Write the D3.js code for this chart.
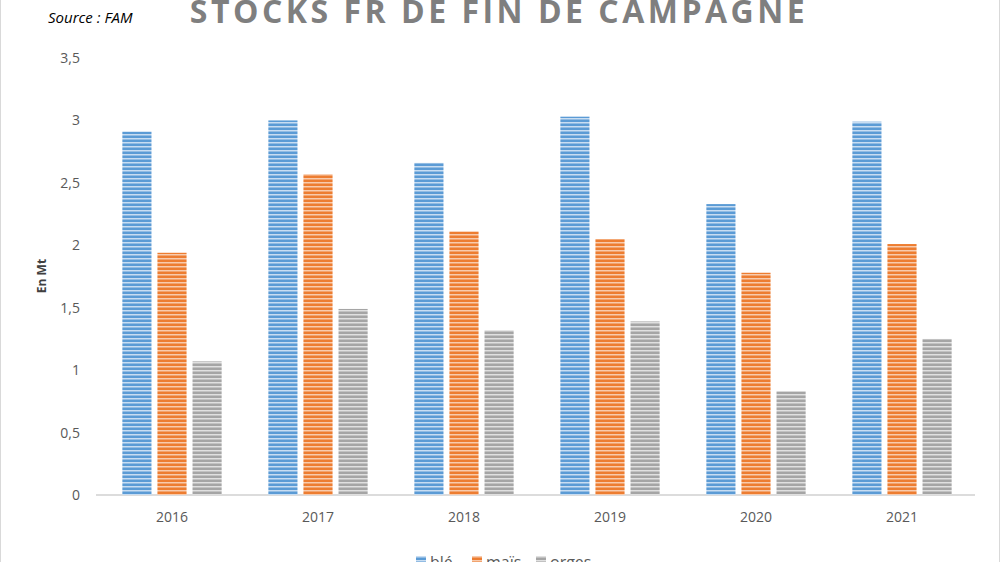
<!DOCTYPE html>
<head>
<meta charset="utf-8">
<script src="https://d3js.org/d3.v7.min.js"></script>
<style>body{margin:0;background:#fff;}</style>
</head>
<body>
<script>
var years = ["2016","2017","2018","2019","2020","2021"];
var series = ["blé","maïs","orges"];
var ble = [2.91, 3.0, 2.66, 3.03, 2.33, 2.99];
var mais = [1.94, 2.57, 2.11, 2.05, 1.78, 2.01];
var orges = [1.07, 1.49, 1.32, 1.39, 0.83, 1.25];
var yTicks = [0, 0.5, 1, 1.5, 2, 2.5, 3, 3.5];
var colors = {"blé":["#5b9bd5","#c8ddf2"], "maïs":["#ed7d31","#f8cbad"], "orges":["#a5a5a5","#e0e0e0"]};
var values = {"blé":ble, "maïs":mais, "orges":orges};

var svg = d3.select("body").append("svg").attr("width",1000).attr("height",562);
svg.append("rect").attr("x",0.5).attr("y",-2).attr("width",999).attr("height",570)
  .attr("fill","#fff").attr("stroke","#d9d9d9");

var defs = svg.append("defs");
series.forEach(function(s,i){
  var p = defs.append("pattern").attr("id","p"+i).attr("patternUnits","userSpaceOnUse")
    .attr("width",4).attr("height",4);
  p.append("rect").attr("width",4).attr("height",4).attr("fill",colors[s][0]);
  p.append("rect").attr("y",2).attr("width",4).attr("height",1.5).attr("fill",colors[s][1]);
});

var x = d3.scaleBand().domain(years).range([99,975]).paddingInner(0.32).paddingOuter(0.16);
var xs = d3.scaleBand().domain(series).range([0,x.bandwidth()]).paddingInner(0.17);
var y = d3.scaleLinear().domain([0,3.5]).range([495,58]);

var ya = svg.append("g").attr("transform","translate(85,0)")
  .call(d3.axisLeft(y).tickValues(yTicks).tickSize(0).tickPadding(5)
    .tickFormat(function(d){ return String(d).replace(".",","); }));
ya.select(".domain").remove();
ya.selectAll("text").attr("font-family","Open Sans, sans-serif").attr("font-size",14).attr("fill","#595959");

var xa = svg.append("g").attr("transform","translate(0,495)")
  .call(d3.axisBottom(x).tickSize(0).tickPadding(17));
xa.select(".domain").attr("stroke","#d0d0d0").attr("stroke-width",1.5).attr("d","M96,0H975");
xa.selectAll("text").attr("font-family","Open Sans, sans-serif").attr("font-size",14).attr("fill","#595959");

series.forEach(function(s,i){
  svg.append("g").selectAll("rect").data(values[s]).join("rect")
    .attr("x",function(d,j){ return x(years[j]) + xs(s); })
    .attr("y",function(d){ return y(d); })
    .attr("width",xs.bandwidth())
    .attr("height",function(d){ return y(0)-y(d); })
    .attr("fill","url(#p"+i+")");
});

svg.append("text").attr("x",499).attr("y",23).attr("text-anchor","middle")
  .attr("font-family","Open Sans, sans-serif").attr("font-weight","bold").attr("font-size",32)
  .attr("letter-spacing",3.5).attr("fill","#7f7f7f").text("STOCKS FR DE FIN DE CAMPAGNE");
svg.append("text").attr("x",48).attr("y",23).attr("font-family","Open Sans, sans-serif")
  .attr("font-style","italic").attr("font-size",15).attr("fill","#000").text("Source : FAM");
svg.append("text").attr("transform","translate(46,276) rotate(-90)").attr("text-anchor","middle")
  .attr("font-family","Open Sans, sans-serif").attr("font-weight","bold").attr("font-size",12)
  .attr("fill","#404040").text("En Mt");

var lg = svg.append("g").selectAll("g").data(series).join("g")
  .attr("transform",function(d,i){ return "translate(" + [416,472,536][i] + ",566)"; });
lg.append("rect").attr("x",0).attr("y",-10).attr("width",10).attr("height",10)
  .attr("fill",function(d,i){ return "url(#p"+i+")"; });
lg.append("text").attr("x",14).attr("y",2).attr("font-family","Open Sans, sans-serif")
  .attr("font-size",16).attr("fill","#595959").text(function(d){ return d; });
</script>
</body>
